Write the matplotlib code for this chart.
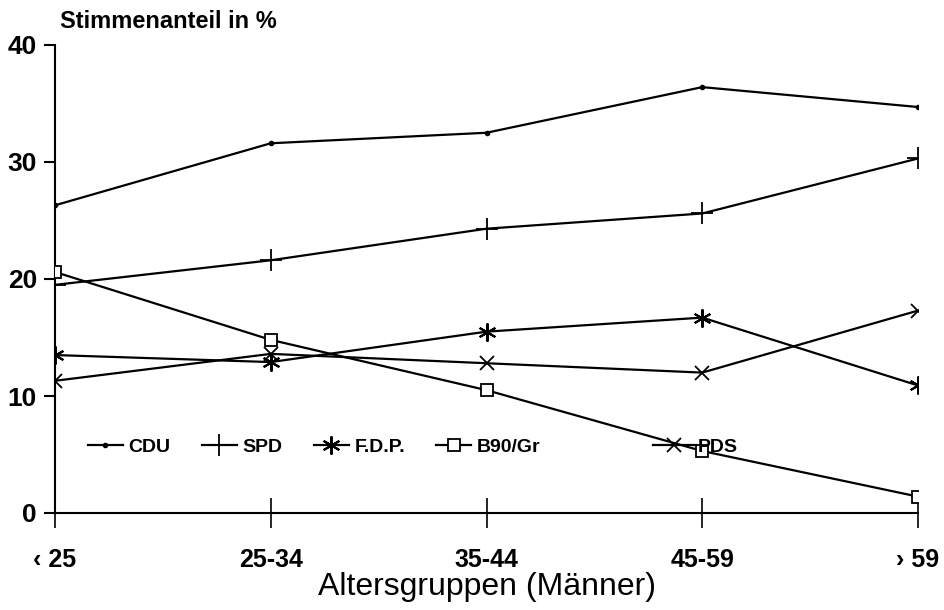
import matplotlib
matplotlib.use("Agg")
import matplotlib.pyplot as plt

categories = ["‹ 25", "25-34", "35-44", "45-59", "› 59"]
cdu = [26.3, 31.6, 32.5, 36.4, 34.7]
spd = [19.5, 21.6, 24.3, 25.6, 30.3]
fdp = [13.5, 12.9, 15.5, 16.7, 10.9]
b90 = [20.6, 14.8, 10.5, 5.3, 1.4]
pds = [11.3, 13.6, 12.8, 12.0, 17.3]

plt.rcParams['font.family'] = ['Liberation Sans', 'DejaVu Sans']

fig = plt.figure(figsize=(9.45, 6.1), dpi=100)
ax = fig.add_axes([55/945, 1-513/610, (918-55)/945, (513-45)/610])
x = list(range(len(categories)))
lw = 1.6
ax.plot(x, cdu, color='black', lw=lw, marker='.', ms=6, label='CDU')
ax.plot(x, spd, color='black', lw=lw, marker='+', ms=16, mew=1.3, label='SPD')
ax.plot(x, fdp, color='black', lw=lw, marker=(6, 2, 0), ms=13, mew=1.5, label='F.D.P.')
ax.plot(x, b90, color='black', lw=lw, marker='s', ms=8, mfc='white', mew=1.3, label='B90/Gr')
ax.plot(x, pds, color='black', lw=lw, marker='x', ms=10, mew=1.3, label='PDS')

ax.set_xlim(0, 4)
ax.set_ylim(0, 40)
ax.set_xticks(x)
ax.set_xticklabels(categories, fontsize=18, fontweight='bold')
ax.set_yticks([0, 10, 20, 30, 40])
ax.set_yticklabels(['0', '10', '20', '30', '40'], fontsize=19, fontweight='bold')
for s in ['top', 'right']:
    ax.spines[s].set_visible(False)
ax.spines['left'].set_linewidth(1.5)
ax.spines['bottom'].set_linewidth(1.5)
ax.spines['left'].set_zorder(0)
ax.tick_params(axis='y', direction='out', length=8, width=1.5, pad=5)
ax.tick_params(axis='x', direction='inout', length=22, width=1.2, pad=14)
ax.set_xlabel('Altersgruppen (Männer)', fontsize=23, labelpad=0)
fig.text(60/945, 1-22/610, 'Stimmenanteil in %', fontsize=17, fontweight='bold', va='center', ha='left')

handles, labels = ax.get_legend_handles_labels()
leg1 = ax.legend(handles[:4], labels[:4], ncol=4, loc='center left',
                 bbox_to_anchor=(0.038, 0.141), frameon=False, borderpad=0,
                 borderaxespad=0, handlelength=1.8, handletextpad=0.3,
                 columnspacing=1.6, prop={'weight': 'bold', 'size': 14})
ax.add_artist(leg1)
ax.legend(handles[4:], labels[4:], loc='center left', bbox_to_anchor=(0.693, 0.141),
          frameon=False, borderpad=0, borderaxespad=0, handlelength=2.2,
          handletextpad=0.1, prop={'weight': 'bold', 'size': 14})

fig.savefig('out.png', dpi=100)
